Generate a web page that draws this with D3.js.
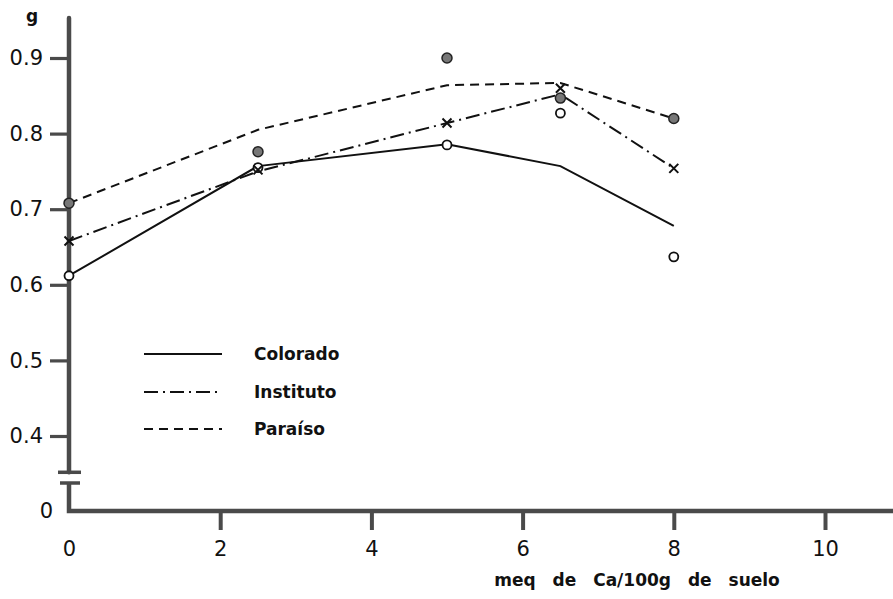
<!DOCTYPE html>
<html>
<head>
<meta charset="utf-8">
<script src="https://cdn.jsdelivr.net/npm/d3@7"></script>
<style>
  html, body { margin: 0; padding: 0; background: #fff; }
  svg { display: block; }
  text { font-family: "DejaVu Sans", "Liberation Sans", sans-serif; fill: #111; }
</style>
</head>
<body>
<svg id="chart" width="893" height="599"></svg>
<script>
// Ca level (meq per 100 g of soil)
const levels = [0, 2.5, 5, 6.5, 8];

// Fitted curves per soil
const coloradoLine  = [0.612, 0.757, 0.786, 0.757, 0.678];
const institutoLine = [0.658, 0.750, 0.814, 0.852, 0.754];
const paraisoLine   = [0.708, 0.805, 0.864, 0.867, 0.820];

// Observed values per soil
const coloradoObs  = [0.612, 0.755, 0.785, 0.827, 0.637];
const institutoObs = [0.658, 0.752, 0.814, 0.860, 0.754];
const paraisoObs   = [0.708, 0.776, 0.900, 0.847, 0.820];

const yTicks = [0.4, 0.5, 0.6, 0.7, 0.8, 0.9];
const xTicks = [0, 2, 4, 6, 8, 10];
const seriesNames = ["Colorado", "Instituto", "Paraíso"];

const svg = d3.select("#chart");
const x = d3.scaleLinear().domain([0, 10]).range([69, 825]);
const y = d3.scaleLinear().domain([0.4, 0.9]).range([436, 58]);
const baseY = 511;          // position of the zero line (broken axis)
const axisColor = "#4a4a4a";

// ---- axes ----
const yAxis = d3.axisLeft(y).tickValues(yTicks).tickSize(19).tickPadding(7)
  .tickFormat(d3.format(".1f"));
const gy = svg.append("g").attr("transform", `translate(${x(0)},0)`).call(yAxis);
gy.select(".domain").remove();
gy.selectAll(".tick line").attr("stroke", axisColor).attr("stroke-width", 3.2);
gy.selectAll(".tick text").style("font-size", "21px").attr("fill", "#111");

// upper piece of the y axis down to the break
svg.append("line").attr("x1", x(0)).attr("x2", x(0))
  .attr("y1", y(0.953)).attr("y2", y(0.352))
  .attr("stroke", axisColor).attr("stroke-width", 4.5).attr("stroke-linecap", "round");
// break marks
svg.append("line").attr("x1", x(0) - 11).attr("x2", x(0) + 12)
  .attr("y1", y(0.352)).attr("y2", y(0.352))
  .attr("stroke", axisColor).attr("stroke-width", 3.5);
svg.append("line").attr("x1", x(0) - 9).attr("x2", x(0) + 11)
  .attr("y1", 483).attr("y2", 483)
  .attr("stroke", axisColor).attr("stroke-width", 3.5);
// lower piece + x axis baseline
svg.append("path")
  .attr("d", `M${x(0)},483 L${x(0)},${baseY} L893,${baseY}`)
  .attr("fill", "none").attr("stroke", axisColor).attr("stroke-width", 4.5);

svg.append("text").attr("x", x(0) - 16).attr("y", baseY).attr("dy", "0.35em")
  .attr("text-anchor", "end").style("font-size", "21px").text("0");
svg.append("text").attr("x", 32).attr("y", 22).attr("text-anchor", "middle")
  .style("font-size", "17px").style("font-weight", "bold").text("g");

const xAxis = d3.axisBottom(x).tickValues(xTicks).tickSize(19).tickPadding(11)
  .tickFormat(d3.format("d"));
const gx = svg.append("g").attr("transform", `translate(0,${baseY})`).call(xAxis);
gx.select(".domain").remove();
gx.selectAll(".tick line").attr("stroke", axisColor).attr("stroke-width", 4)
  .filter(d => d === 0).remove();
gx.selectAll(".tick text").style("font-size", "21px").attr("fill", "#111");

svg.append("text").attr("x", 637).attr("y", 586).attr("text-anchor", "middle")
  .style("font-size", "17px").style("font-weight", "bold").style("word-spacing", "11px")
  .text("meq de Ca/100g de suelo");

// ---- curves ----
const styles = [
  { dash: null },
  { dash: "14,5,2,5" },
  { dash: "9,6" }
];
const lineGen = d3.line().x((d, i) => x(levels[i])).y(d => y(d));
[coloradoLine, institutoLine, paraisoLine].forEach((vals, i) => {
  svg.append("path").datum(vals).attr("d", lineGen)
    .attr("fill", "none").attr("stroke", "#111").attr("stroke-width", 2)
    .attr("stroke-dasharray", styles[i].dash);
});

// ---- observed points ----
// Colorado: open circles
svg.append("g").selectAll("circle").data(coloradoObs).join("circle")
  .attr("cx", (d, i) => x(levels[i])).attr("cy", d => y(d)).attr("r", 4.5)
  .attr("fill", "#fff").attr("stroke", "#111").attr("stroke-width", 1.8);
// Paraíso: shaded circles
svg.append("g").selectAll("circle").data(paraisoObs).join("circle")
  .attr("cx", (d, i) => x(levels[i])).attr("cy", d => y(d)).attr("r", 5)
  .attr("fill", "#777").attr("stroke", "#222").attr("stroke-width", 1.5);
// Instituto: crosses
const cross = 4.5;
svg.append("g").selectAll("path").data(institutoObs).join("path")
  .attr("d", (d, i) => {
    const cx = x(levels[i]), cy = y(d);
    return `M${cx - cross},${cy - cross}L${cx + cross},${cy + cross}M${cx + cross},${cy - cross}L${cx - cross},${cy + cross}`;
  })
  .attr("stroke", "#111").attr("stroke-width", 2);

// ---- legend ----
const legendY = [354, 392, 429];
const lg = svg.append("g");
seriesNames.forEach((name, i) => {
  lg.append("line").attr("x1", 144).attr("x2", 222)
    .attr("y1", legendY[i]).attr("y2", legendY[i])
    .attr("stroke", "#111").attr("stroke-width", 2)
    .attr("stroke-dasharray", styles[i].dash);
  lg.append("text").attr("x", 254).attr("y", legendY[i]).attr("dy", "0.35em")
    .style("font-size", "17px").style("font-weight", "bold").text(name);
});
</script>
</body>
</html>
